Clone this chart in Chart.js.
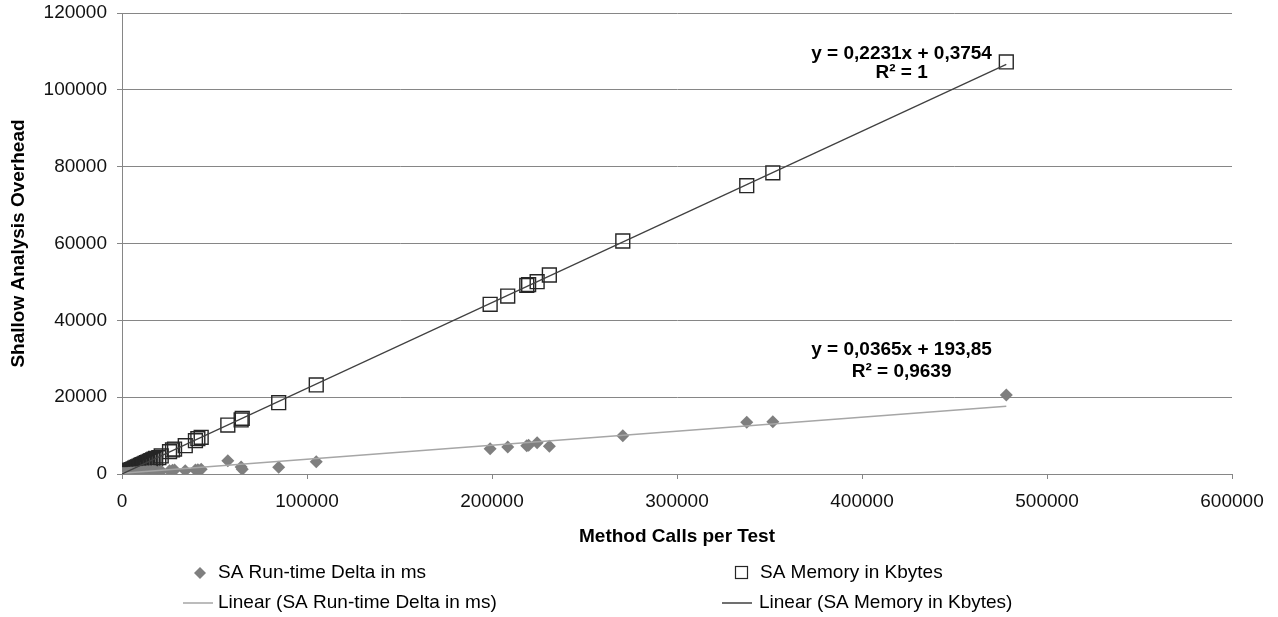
<!DOCTYPE html>
<html><head><meta charset="utf-8">
<script src="https://cdn.jsdelivr.net/npm/chart.js@4.4.1/dist/chart.umd.min.js"></script>
<style>html,body{margin:0;padding:0;background:#fff}#wrap{width:1278px;height:617px;position:relative}</style>
</head><body><div id="wrap"><canvas id="c" width="1278" height="617"></canvas></div>
<script>
// Method calls per test (x values shared by both series)
const methodCalls = [50, 120, 200, 300, 450, 600, 800, 1000, 1300, 1500, 1800, 2200, 2600, 3000, 3400, 3700, 4100, 4500, 5200, 6000, 6800, 7600, 8400, 9200, 10000, 10800, 11600, 12400, 13200, 14000, 14800, 15600, 16500, 17300, 18200,
  19900, 21200, 25700, 27300, 28400, 34200, 39700, 41000, 42800, 57200, 64400, 65000, 84700, 105000,
  199000, 208500, 218800, 219800, 224400, 231000, 270700, 337700, 351800, 478000];
// SA Memory in Kbytes
const memoryKb = [10, 30, 45, 70, 100, 130, 180, 220, 290, 330, 400, 490, 580, 670, 760, 830, 910, 1000, 1160, 1340, 1520, 1700, 1870, 2050, 2230, 2410, 2590, 2770, 2950, 3120, 3300, 3480, 3680, 3860, 4060,
  4250, 4690, 5800, 6250, 6500, 7370, 8670, 9190, 9550, 12750, 14060, 14500, 18560, 23170,
  44170, 46330, 49100, 49300, 50060, 51800, 60650, 75050, 78400, 107250];
// SA Run-time Delta in ms
const runtimeMs = [5, 10, 15, 40, 30, 50, 60, 70, 80, 90, 100, 120, 140, 160, 170, 190, 210, 230, 260, 300, 330, 370, 400, 440, 470, 500, 540, 570, 600, 620, 650, 680, 700, 720, 640,
  650, 750, 860, 1000, 1040, 860, 1040, 1100, 1220, 3460, 1800, 1220, 1740, 3200,
  6590, 7030, 7370, 7500, 8150, 7210, 9970, 13450, 13600, 20560];
// Linear trendline coefficients [slope, intercept] and their labels
const memFit = [0.2231, 0.3754];
const rtFit = [0.0365, 193.85];
const memFitText = ['y = 0,2231x + 0,3754', 'R² = 1'];
const rtFitText = ['y = 0,0365x + 193,85', 'R² = 0,9639'];
// Axis ticks
const xTicks = [0, 100000, 200000, 300000, 400000, 500000, 600000];
const yTicks = [0, 20000, 40000, 60000, 80000, 100000, 120000];
// Legend labels
const seriesNames = ['SA Run-time Delta in ms', 'SA Memory in Kbytes', 'Linear (SA Run-time Delta in ms)', 'Linear (SA Memory in Kbytes)'];

const FONT = "'Liberation Sans', Arial, sans-serif";
const xMin = Math.min(...methodCalls), xMax = Math.max(...methodCalls);
const trend = (c) => [{x: xMin, y: c[0] * xMin + c[1]}, {x: xMax, y: c[0] * xMax + c[1]}];

const annotPlugin = {
  id: 'annot',
  afterDraw(chart) {
    const ctx = chart.ctx, xs = chart.scales.x, ys = chart.scales.y;
    ctx.save();
    // trendline equations (anchored in data units)
    ctx.font = 'bold 19px ' + FONT;
    ctx.fillStyle = '#000';
    ctx.textAlign = 'center';
    ctx.textBaseline = 'middle';
    const ax = xs.getPixelForValue(421400);
    ctx.fillText(memFitText[0], ax, ys.getPixelForValue(109300));
    ctx.fillText(memFitText[1], ax, ys.getPixelForValue(104400));
    ctx.fillText(rtFitText[0], ax, ys.getPixelForValue(32300));
    ctx.fillText(rtFitText[1], ax, ys.getPixelForValue(26600));
    // legend
    ctx.font = '19px ' + FONT;
    ctx.textAlign = 'left';
    const r1 = 573, r2 = 603;
    ctx.fillStyle = '#7f7f7f';
    ctx.beginPath();
    ctx.moveTo(200, r1 - 6); ctx.lineTo(206, r1); ctx.lineTo(200, r1 + 6); ctx.lineTo(194, r1); ctx.closePath();
    ctx.fill();
    ctx.strokeStyle = '#262626'; ctx.lineWidth = 1.2;
    ctx.strokeRect(735.5, r1 - 6.5, 12, 12);
    ctx.lineWidth = 1.5;
    ctx.strokeStyle = '#a6a6a6';
    ctx.beginPath(); ctx.moveTo(183, r2); ctx.lineTo(213, r2); ctx.stroke();
    ctx.strokeStyle = '#404040';
    ctx.beginPath(); ctx.moveTo(722, r2); ctx.lineTo(752, r2); ctx.stroke();
    ctx.fillStyle = '#000';
    ctx.fillText(seriesNames[0], 218, r1);
    ctx.fillText(seriesNames[1], 760, r1);
    ctx.fillText(seriesNames[2], 218, r2);
    ctx.fillText(seriesNames[3], 759, r2);
    ctx.restore();
  }
};

new Chart(document.getElementById('c'), {
  type: 'scatter',
  data: {
    datasets: [
      { label: seriesNames[3], type: 'line', data: trend(memFit), borderColor: '#404040', borderWidth: 1.3, pointRadius: 0, showLine: true, order: 0 },
      { label: seriesNames[2], type: 'line', data: trend(rtFit), borderColor: '#a6a6a6', borderWidth: 1.5, pointRadius: 0, showLine: true, order: 0 },
      { label: seriesNames[0], data: methodCalls.map((x, i) => ({x, y: runtimeMs[i]})), pointStyle: 'rectRot', pointRadius: 6.5,
        backgroundColor: '#7f7f7f', borderColor: '#7f7f7f', borderWidth: 0, order: 1 },
      { label: seriesNames[1], data: methodCalls.map((x, i) => ({x, y: memoryKb[i]})), pointStyle: 'rect', pointRadius: 9.8,
        backgroundColor: 'rgba(0,0,0,0)', borderColor: '#262626', borderWidth: 1.4, order: 1 }
    ]
  },
  options: {
    responsive: false,
    animation: false,
    events: [],
    layout: { padding: { left: 0, top: 13, right: 46, bottom: 67 } },
    plugins: { legend: { display: false }, tooltip: { enabled: false } },
    scales: {
      x: {
        type: 'linear', min: 0, max: 600000,
        afterBuildTicks: (s) => { s.ticks = xTicks.map(v => ({value: v})); },
        afterFit: (s) => { s.height = 76; },
        ticks: { font: { family: FONT, size: 19 }, color: '#111', padding: 11, maxRotation: 0, callback: (v) => String(v) },
        grid: { drawOnChartArea: false, drawTicks: true, tickLength: 5, color: '#868686' },
        border: { color: '#868686', width: 1 },
        title: { display: true, text: 'Method Calls per Test', font: { family: FONT, size: 19, weight: 'bold' }, color: '#000', padding: { top: 0, bottom: 2 } }
      },
      y: {
        type: 'linear', min: 0, max: 120000,
        afterBuildTicks: (s) => { s.ticks = yTicks.map(v => ({value: v})); },
        afterFit: (s) => { s.width = 122; s.paddingTop = 0; s.paddingBottom = 0; },
        ticks: { font: { family: FONT, size: 19 }, color: '#111', padding: 10, callback: (v) => String(v) },
        grid: { drawOnChartArea: true, drawTicks: true, tickLength: 5, color: '#868686' },
        border: { color: '#868686', width: 1 },
        title: { display: true, text: 'Shallow Analysis Overhead', font: { family: FONT, size: 19, weight: 'bold' }, color: '#000', padding: { top: 7, bottom: 0 } }
      }
    }
  },
  plugins: [annotPlugin]
});
</script>
</body></html>
